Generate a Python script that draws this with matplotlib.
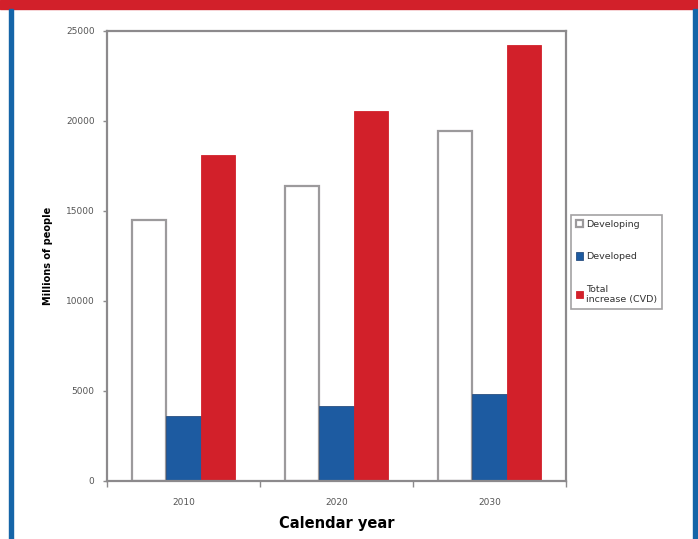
import matplotlib
matplotlib.use("Agg")
import matplotlib.pyplot as plt
from matplotlib.patches import Rectangle
import numpy as np

# values (millions of people)
years = ["2010", "2020", "2030"]
developing = [14500, 16400, 19450]
developed = [3600, 4150, 4830]
total_increase = [18100, 20550, 24220]
series_labels = ["Developing", "Developed", "Total\nincrease (CVD)"]
yticks = [0, 5000, 10000, 15000, 20000, 25000]

blue = "#1d5ba1"
red = "#d2202a"
grey = "#8c8a8c"

fig = plt.figure(figsize=(6.98, 5.39), dpi=100)
W, H = 698.0, 539.0

# frame decoration: red banner on top, blue side rules
fig.patches.append(Rectangle((0, 1 - 9 / H), 1, 9 / H, transform=fig.transFigure,
                             color=red, zorder=0))
fig.patches.append(Rectangle((9 / W, 0), 4 / W, 1 - 9 / H, transform=fig.transFigure,
                             color="#1565a8", zorder=0))
fig.patches.append(Rectangle((693 / W, 0), 5 / W, 1 - 9 / H, transform=fig.transFigure,
                             color="#1565a8", zorder=0))

ax = fig.add_axes([107 / W, 1 - 481 / H, 459 / W, 450 / H])

x = np.arange(len(years))
w = 0.225
b1 = ax.bar(x - w, developing, w, color="white", edgecolor="#9c9a9c", linewidth=1.6,
            label=series_labels[0])
b2 = ax.bar(x, developed, w, color=blue, edgecolor="#2a4f80", linewidth=0.6,
            label=series_labels[1])
b3 = ax.bar(x + w, total_increase, w, color=red, edgecolor=red, linewidth=0.6,
            label=series_labels[2])

ax.set_xlim(-0.5, len(years) - 0.5)
ax.set_ylim(0, 25000)
ax.set_yticks(yticks)
ax.set_yticklabels([str(v) for v in yticks], fontsize=6.5, color="#555555")
ax.set_xticks(x)
ax.set_xticklabels(years, fontsize=6.5, color="#555555")
ax.set_xticks(np.arange(len(years) + 1) - 0.5, minor=True)
ax.tick_params(axis="x", which="major", length=0, pad=12)
ax.tick_params(axis="x", which="minor", length=4, width=1, color=grey, direction="out")
ax.tick_params(axis="y", length=3, width=1, color=grey, direction="out", pad=6)

for s in ax.spines.values():
    s.set_color(grey)
    s.set_linewidth(1.6)

ax.set_ylabel("Millions of people", fontsize=7, fontweight="bold", labelpad=9)
ax.set_xlabel("Calendar year", fontsize=10.5, fontweight="bold", labelpad=7)

leg = fig.legend(handles=[b1, b2, b3], loc="upper left",
                 bbox_to_anchor=(571 / W, 1 - 215 / H), fontsize=6.8,
                 frameon=True, fancybox=False, borderpad=0.5, labelspacing=2.5,
                 handlelength=0.8, handleheight=0.8, handletextpad=0.3,
                 borderaxespad=0)
leg.get_frame().set_edgecolor(grey)
leg.get_frame().set_linewidth(1.2)
for t in leg.get_texts():
    t.set_color("#333333")

fig.savefig("out.png", dpi=100)
